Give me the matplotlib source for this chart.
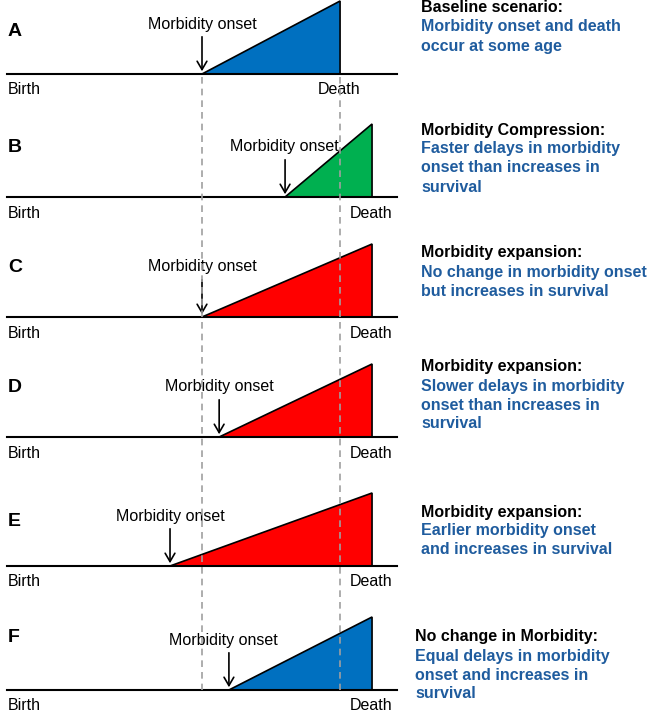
import matplotlib.pyplot as plt

plt.rcParams['font.family'] = ['Liberation Sans', 'DejaVu Sans']

# scenario data: ages on a 0 (birth) .. 100 (end of the axis) scale
panels = ['A', 'B', 'C', 'D', 'E', 'F']
onset_age = [50.0, 71.3, 50.0, 54.4, 41.8, 56.9]
death_age = [85.4, 93.6, 93.6, 93.6, 93.6, 93.6]
fill_colors = ['#0070C0', '#00B050', '#FF0000', '#FF0000', '#FF0000', '#0070C0']
titles = ['Baseline scenario:', 'Morbidity Compression:', 'Morbidity expansion:',
          'Morbidity expansion:', 'Morbidity expansion:', 'No change in Morbidity:']
descriptions = [
  ['Morbidity onset and death', 'occur at some age'],
  ['Faster delays in morbidity', 'onset than increases in', 'survival'],
  ['No change in morbidity onset', 'but increases in survival'],
  ['Slower delays in morbidity', 'onset than increases in', 'survival'],
  ['Earlier morbidity onset', 'and increases in survival'],
  ['Equal delays in morbidity', 'onset and increases in', 'survival'],
]

# layout (pixels)
W, H = 650, 712
baseline_y = [74, 197, 317, 437, 566, 690]
letter_y = [31, 148, 268, 388, 521, 637]
title_y = [8, 130, 253, 367, 512, 637]
title_x = [421, 421, 421, 421, 421, 415]
label_shift = [0, -1, 0, 0, 0, -6]
tri_h = 73
blue_text = '#1F5C9E'

fig = plt.figure(figsize=(W / 100, H / 100), dpi=100)
ax = fig.add_axes([0, 0, 1, 1])
# x in age units (birth at pixel 7, 100 at pixel 397), y in pixels
px = 3.9
ax.set_xlim(-7 / px, (W - 7) / px)
ax.set_ylim(H, 0)
ax.axis('off')

for i, p in enumerate(panels):
  y0 = baseline_y[i]
  on, de = onset_age[i], death_age[i]
  ax.fill([on, de, de], [y0, y0 - tri_h, y0], color=fill_colors[i], ec='black', lw=1.2, zorder=2)
  ax.plot([0, 100], [y0, y0], color='black', lw=1.5, zorder=3)
  ax.annotate('', xy=(on, y0), xytext=(on, y0 - 40),
              arrowprops=dict(arrowstyle='->,head_width=0.35,head_length=0.6', color='black', lw=1.2),
              zorder=4)
  ax.text(on + label_shift[i] / px, y0 - 50, 'Morbidity onset', ha='center', va='center', fontsize=11.5)
  ax.text(0.1, y0 + 16, 'Birth', ha='left', va='center', fontsize=11.5)
  ax.text(de - 0.3, y0 + 16, 'Death', ha='center', va='center', fontsize=11.5)
  ax.text(0.2, letter_y[i], p, ha='left', va='center', fontsize=14, fontweight='bold')

  fig.text(title_x[i] / W, 1 - title_y[i] / H, titles[i], ha='left', va='center',
           fontsize=11.5, fontweight='bold', color='black')
  for j, line in enumerate(descriptions[i]):
    fig.text(title_x[i] / W, 1 - (title_y[i] + 19 * (j + 1)) / H, line, ha='left', va='center',
             fontsize=11.5, fontweight='bold', color=blue_text)

# reference lines at baseline onset and death
for age in [onset_age[0], death_age[0]]:
  ax.plot([age, age], [baseline_y[0] + 3, baseline_y[-1]], color='#A0A0A0', lw=1.2,
          ls=(0, (4, 3)), zorder=5)

fig.savefig('out.png', dpi=100)
